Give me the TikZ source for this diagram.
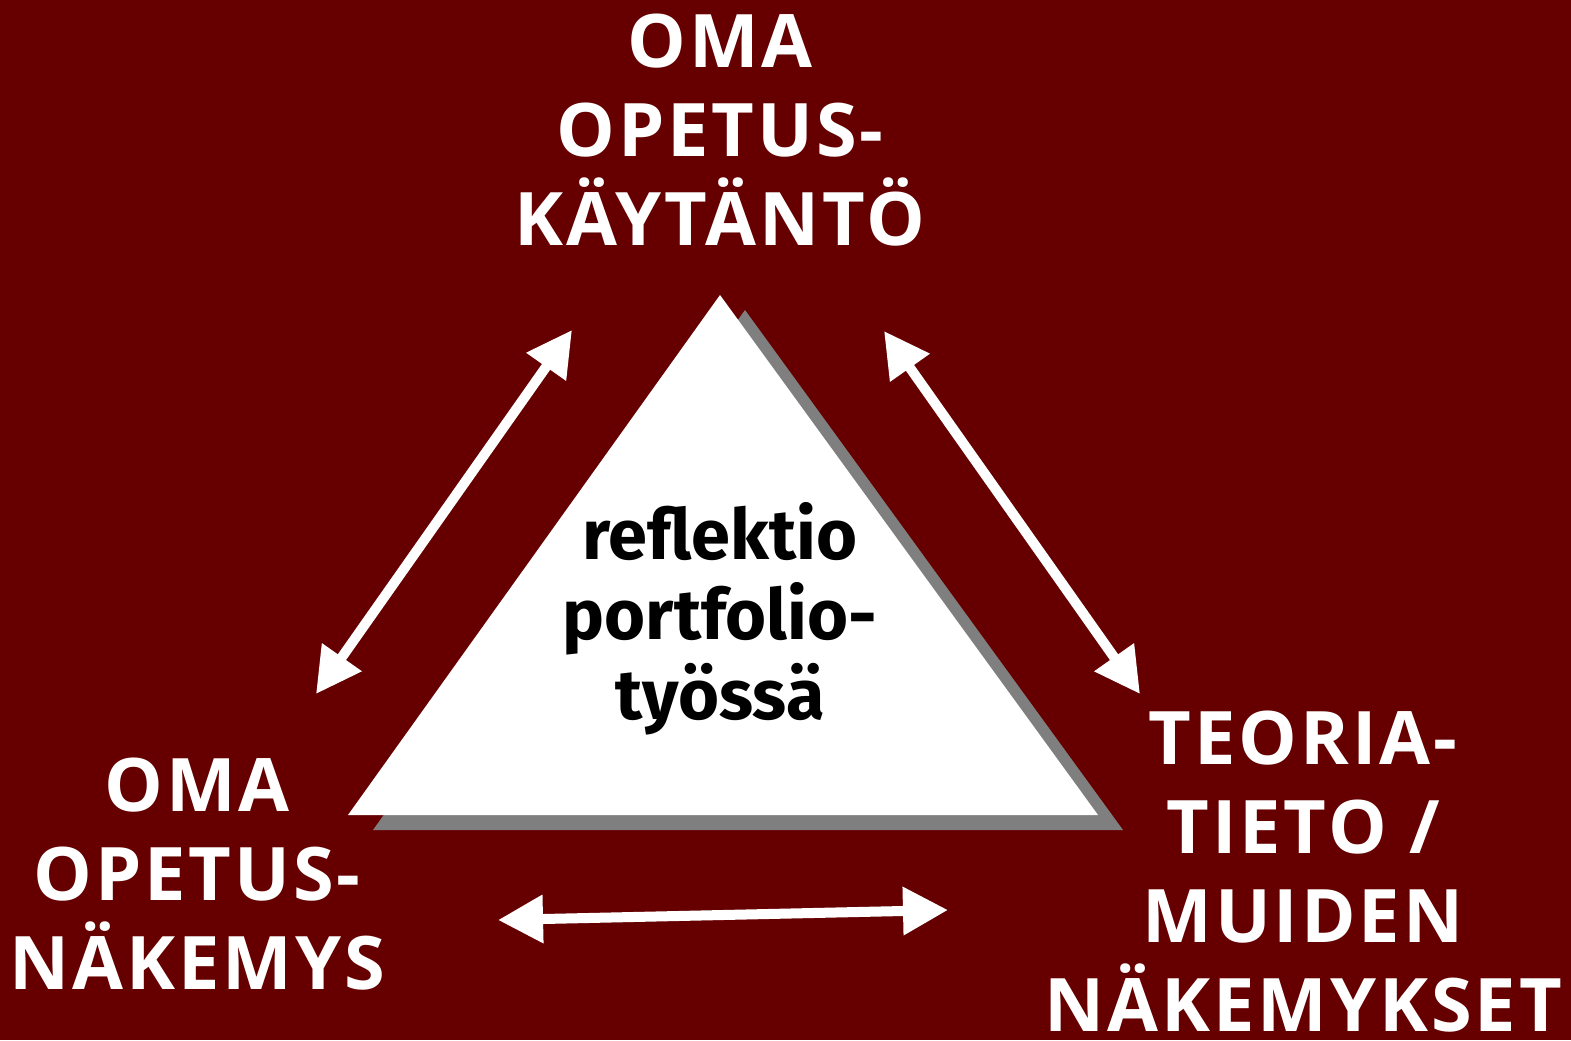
\documentclass[tikz,border=0pt]{standalone}
\usepackage{fontspec}
\setmainfont{Fira Sans}
\newfontfamily\capsfont[LetterSpace=4]{Open Sans}
\usetikzlibrary{arrows.meta}
\usetikzlibrary{positioning}
\definecolor{bgred}{HTML}{660000}
\definecolor{shadowgray}{HTML}{7F7F7F}
\begin{document}
\begin{tikzpicture}[x=0.01cm,y=-0.01cm]
	\tikzset{
	  corner/.style={white,align=center,font=\capsfont\bfseries\fontsize{21}{25.3}\selectfont},
	  centre/.style={black,align=center,font=\bfseries\fontsize{20}{22.8}\selectfont},
	  link/.style={white,line width=0.1cm,{Triangle[length=0.45cm,width=0.46cm]}-{Triangle[length=0.45cm,width=0.46cm]}}
	}
	%BACKGROUND
	\fill[bgred] (0,0) rectangle (1571,1040);
	\useasboundingbox (0,0) rectangle (1571,1040);
	%TRIANGLE WITH SHADOW
	\fill[shadowgray] (745,310) -- (1123,830) -- (373,830) -- cycle;
	\fill[white] (720,295) -- (1098,815) -- (348,815) -- cycle;
	%LABELS
	\node[corner] (practice) at (720,130) {OMA\\OPETUS-\\KÄYTÄNTÖ};
	\node[corner] (view) at (197,874) {OMA\\OPETUS-\\NÄKEMYS};
	\node[corner] (theory) at (1303,872) {TEORIA-\\TIETO /\\MUIDEN\\NÄKEMYKSET};
	\node[centre] (reflection) at (720,619) {reflektio\\portfolio-\\työssä};
	%ARROW ENDS
	\coordinate (lt) at (572,330);
	\coordinate (lb) at (316,694);
	\coordinate (rt) at (884,331);
	\coordinate (rb) at (1140,694);
	\coordinate (bl) at (498,920);
	\coordinate (br) at (948,910);
	\foreach \a/\b in {lt/lb,rt/rb,bl/br} {
		\draw[link] (\a) -- (\b) ;
	  }
\end{tikzpicture}
\end{document}
